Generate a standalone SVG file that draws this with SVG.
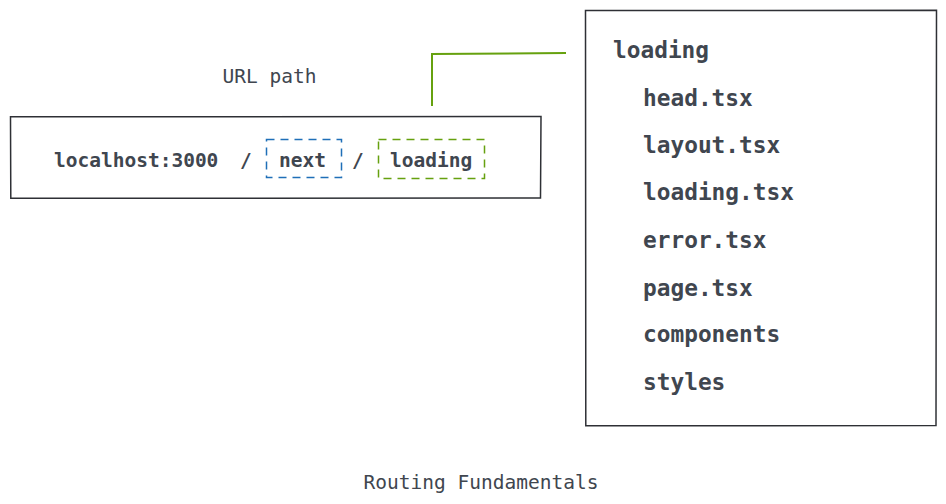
<svg xmlns="http://www.w3.org/2000/svg" width="946" height="504" viewBox="0 0 946 504">
<style>
.t{font-family:"DejaVu Sans Mono","Liberation Mono",monospace;fill:#40464f}
.s{font-size:19.5px;font-weight:bold}
.l{font-size:19.5px}
.big{font-size:22.8px;font-weight:bold}
.box{fill:none;stroke:#2e3035;stroke-width:1.5}
.dash{fill:none;stroke-width:1.5;stroke-dasharray:8 6}
</style>
<rect width="946" height="504" fill="#ffffff"/>
<g id="url-label"><text class="t l" x="269.5" y="82.5" text-anchor="middle">URL path</text></g>
<g id="url-box">
<path class="box" d="M10.5 116.8 L541 116.5 L540.5 198 L10.8 198.3 Z"/>
<text class="t s" x="54" y="166.5">localhost:3000</text>
<text class="t s" x="240" y="166.5">/</text>
<text class="t s" x="352" y="166.5">/</text>
</g>
<g id="next-seg">
<rect class="dash" x="266.5" y="139.5" width="75" height="38" stroke="#1f6fb8"/>
<text class="t s" x="279" y="166.5">next</text>
</g>
<g id="loading-seg">
<rect class="dash" x="378.5" y="139.5" width="106" height="39" stroke="#66a10f"/>
<text class="t s" x="390" y="166.5">loading</text>
</g>
<g id="connectors">
<path d="M432 106 L432 54 L566 53" fill="none" stroke="#66a10f" stroke-width="2"/>
</g>
<g id="folder-box">
<path class="box" d="M585.5 10.5 L936.5 10.3 L936 425.5 L585.8 425.8 Z"/>
<text class="t big" x="613" y="58">loading</text>
<text class="t big" x="643" y="106">head.tsx</text>
<text class="t big" x="643" y="153">layout.tsx</text>
<text class="t big" x="643" y="200">loading.tsx</text>
<text class="t big" x="643" y="248">error.tsx</text>
<text class="t big" x="643" y="296">page.tsx</text>
<text class="t big" x="643" y="342">components</text>
<text class="t big" x="643" y="390">styles</text>
</g>
<g id="title"><text class="t l" x="481" y="488.5" text-anchor="middle">Routing Fundamentals</text></g>
</svg>
